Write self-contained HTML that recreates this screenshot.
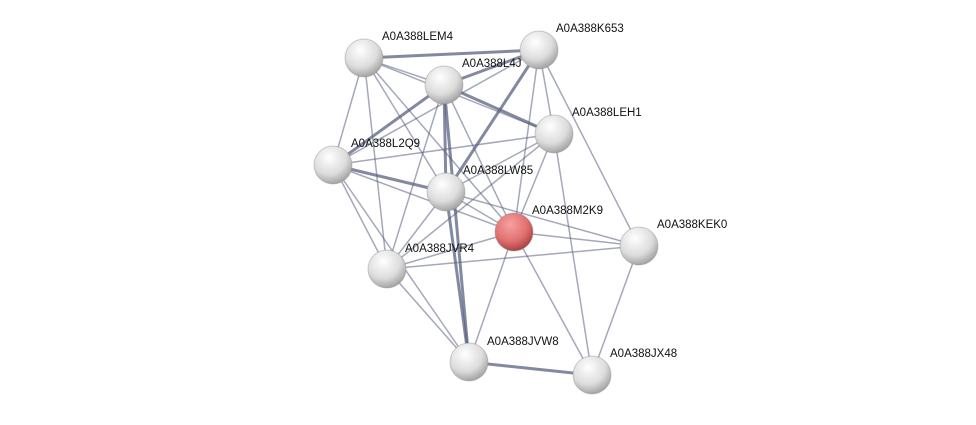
<!DOCTYPE html>
<html><head><style>
body{margin:0;background:#fff;}
svg text{font-family:"Liberation Sans",sans-serif;font-size:11.5px;fill:#111;}
</style></head><body>
<svg width="976" height="420" viewBox="0 0 976 420" xmlns="http://www.w3.org/2000/svg">
<defs>
<radialGradient id="g" cx="0.4" cy="0.3" r="0.75">
<stop offset="0" stop-color="#ffffff"/><stop offset="0.6" stop-color="#dcdcdc"/><stop offset="1" stop-color="#9a9a9a"/></radialGradient>
<radialGradient id="r" cx="0.4" cy="0.3" r="0.75">
<stop offset="0" stop-color="#f8a0a0"/><stop offset="0.6" stop-color="#e07070"/><stop offset="1" stop-color="#a03a3a"/></radialGradient>
</defs>
<g stroke="#5a6180" stroke-opacity="0.55" fill="none">
<g stroke-width="1.5">
<line x1="364" y1="58" x2="444" y2="85"/><line x1="364" y1="58" x2="333" y2="165"/>
<line x1="364" y1="58" x2="446" y2="192"/><line x1="364" y1="58" x2="387" y2="269"/>
<line x1="364" y1="58" x2="514" y2="232"/><line x1="364" y1="58" x2="554" y2="134"/>
<line x1="539" y1="50" x2="554" y2="134"/><line x1="539" y1="50" x2="514" y2="232"/>
<line x1="539" y1="50" x2="639" y2="246"/><line x1="539" y1="50" x2="333" y2="165"/>
<line x1="444" y1="85" x2="514" y2="232"/><line x1="444" y1="85" x2="387" y2="269"/>
<line x1="554" y1="134" x2="333" y2="165"/><line x1="554" y1="134" x2="446" y2="192"/>
<line x1="554" y1="134" x2="514" y2="232"/><line x1="554" y1="134" x2="387" y2="269"/>
<line x1="554" y1="134" x2="592" y2="375"/>
<line x1="333" y1="165" x2="514" y2="232"/><line x1="333" y1="165" x2="387" y2="269"/>
<line x1="333" y1="165" x2="469" y2="362"/>
<line x1="446" y1="192" x2="514" y2="232"/><line x1="446" y1="192" x2="387" y2="269"/>
<line x1="446" y1="192" x2="639" y2="246"/>
<line x1="514" y1="232" x2="639" y2="246"/><line x1="514" y1="232" x2="387" y2="269"/>
<line x1="514" y1="232" x2="469" y2="362"/><line x1="514" y1="232" x2="592" y2="375"/>
<line x1="639" y1="246" x2="387" y2="269"/><line x1="639" y1="246" x2="592" y2="375"/>
<line x1="387" y1="269" x2="469" y2="362"/>
</g>
<g stroke-width="3" stroke-opacity="0.75">
<line x1="364" y1="58" x2="539" y2="50"/><line x1="539" y1="50" x2="444" y2="85"/>
<line x1="539" y1="50" x2="446" y2="192"/><line x1="444" y1="85" x2="333" y2="165"/>
<line x1="444" y1="85" x2="446" y2="192"/><line x1="444" y1="85" x2="554" y2="134"/>
<line x1="444" y1="85" x2="469" y2="362"/><line x1="333" y1="165" x2="446" y2="192"/>
<line x1="446" y1="192" x2="469" y2="362"/><line x1="469" y1="362" x2="592" y2="375"/>
</g>
</g>
<g stroke="#888" stroke-opacity="0.4" stroke-width="1">
<circle cx="364" cy="58" r="19" fill="url(#g)"/>
<circle cx="539" cy="50" r="19" fill="url(#g)"/>
<circle cx="444" cy="85" r="19" fill="url(#g)"/>
<circle cx="554" cy="134" r="19" fill="url(#g)"/>
<circle cx="333" cy="165" r="19" fill="url(#g)"/>
<circle cx="446" cy="192" r="19" fill="url(#g)"/>
<circle cx="514" cy="232" r="19" fill="url(#r)"/>
<circle cx="639" cy="246" r="19" fill="url(#g)"/>
<circle cx="387" cy="269" r="19" fill="url(#g)"/>
<circle cx="469" cy="362" r="19" fill="url(#g)"/>
<circle cx="592" cy="375" r="19" fill="url(#g)"/>
</g>
<text x="382" y="40">A0A388LEM4</text>
<text x="556" y="32">A0A388K653</text>
<text x="462" y="67">A0A388L4J</text>
<text x="572" y="116">A0A388LEH1</text>
<text x="351" y="147">A0A388L2Q9</text>
<text x="463" y="174">A0A388LW85</text>
<text x="532" y="214">A0A388M2K9</text>
<text x="657" y="228">A0A388KEK0</text>
<text x="405" y="252">A0A388JVR4</text>
<text x="487" y="345">A0A388JVW8</text>
<text x="610" y="357">A0A388JX48</text>
</svg>
</body></html>
